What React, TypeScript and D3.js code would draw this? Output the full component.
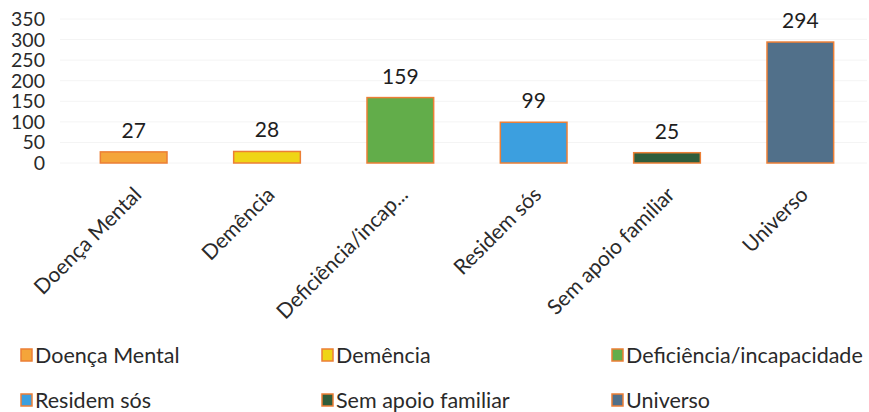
import React, { useEffect, useRef } from 'react';
import * as d3 from 'd3';

const categories = ['Doença Mental', 'Demência', 'Deficiência/incapacidade', 'Residem sós', 'Sem apoio familiar', 'Universo'];
const axisLabels = ['Doença Mental', 'Demência', 'Deficiência/incap...', 'Residem sós', 'Sem apoio familiar', 'Universo'];
const values = [27, 28, 159, 99, 25, 294];
const colors = ['#f4a53a', '#efd516', '#62ad4a', '#3c9fdf', '#2f5d3b', '#51708a'];
const yTicks = [0, 50, 100, 150, 200, 250, 300, 350];

const W = 869;
const H = 412;
const FONT = "Lato, 'Open Sans', sans-serif";

const App = () => {
  const svgRef = useRef<SVGSVGElement>(null);

  useEffect(() => {
    const svg = d3.select(svgRef.current);
    svg.selectAll('*').remove();

    const x = d3.scaleBand().domain(categories).range([67, 867]).paddingInner(0.5).paddingOuter(0.25);
    const y = d3.scaleLinear().domain([0, 350]).range([163, 19]);

    // faint gridlines
    svg.append('g')
      .selectAll('line')
      .data(yTicks)
      .enter()
      .append('line')
      .attr('x1', 60)
      .attr('x2', 867)
      .attr('y1', d => y(d))
      .attr('y2', d => y(d))
      .attr('stroke', '#f4f4f4')
      .attr('stroke-width', 1);

    // y axis labels
    svg.append('g')
      .selectAll('text')
      .data(yTicks)
      .enter()
      .append('text')
      .attr('x', 45)
      .attr('y', d => y(d))
      .attr('dy', '0.36em')
      .attr('text-anchor', 'end')
      .attr('font-family', FONT)
      .attr('font-size', 19.5)
      .attr('fill', '#2a2a2a')
      .text(d => d);

    // bars
    svg.append('g')
      .selectAll('rect')
      .data(values)
      .enter()
      .append('rect')
      .attr('x', (d, i) => x(categories[i])!)
      .attr('y', d => y(d))
      .attr('width', x.bandwidth())
      .attr('height', d => y(0) - y(d))
      .attr('fill', (d, i) => colors[i])
      .attr('stroke', '#ec7f36')
      .attr('stroke-width', 1.5);

    // value labels
    svg.append('g')
      .selectAll('text')
      .data(values)
      .enter()
      .append('text')
      .attr('x', (d, i) => x(categories[i])! + x.bandwidth() / 2)
      .attr('y', d => y(d) - 14)
      .attr('text-anchor', 'middle')
      .attr('font-family', FONT)
      .attr('font-size', 21)
      .attr('fill', '#1e1e1e')
      .text(d => d);

    // rotated category labels
    svg.append('g')
      .selectAll('text')
      .data(axisLabels)
      .enter()
      .append('text')
      .attr('transform', (d, i) => `translate(${x(categories[i])! + x.bandwidth() / 2 + 9},${196}) rotate(-45)`)
      .attr('text-anchor', 'end')
      .attr('font-family', FONT)
      .attr('font-size', 21)
      .attr('fill', '#2a2a2a')
      .text(d => d);

    // legend
    const legendX = [21, 322, 612];
    const legendY = [355, 400];
    const legend = svg.append('g')
      .selectAll('g')
      .data(categories)
      .enter()
      .append('g')
      .attr('transform', (d, i) => `translate(${legendX[i % 3]},${legendY[Math.floor(i / 3)]})`);
    legend.append('rect')
      .attr('x', 0)
      .attr('y', -6)
      .attr('width', 11)
      .attr('height', 12)
      .attr('fill', (d, i) => colors[i])
      .attr('stroke', '#ec7f36')
      .attr('stroke-width', 1.5);
    legend.append('text')
      .attr('x', 14)
      .attr('dy', '0.36em')
      .attr('font-family', FONT)
      .attr('font-size', 21.5)
      .attr('fill', '#2a2a2a')
      .text(d => d);
  }, []);

  return <svg ref={svgRef} width={W} height={H} style={{ position: 'absolute', left: 0, top: 0, background: '#fff' }} />;
};

export default App;
